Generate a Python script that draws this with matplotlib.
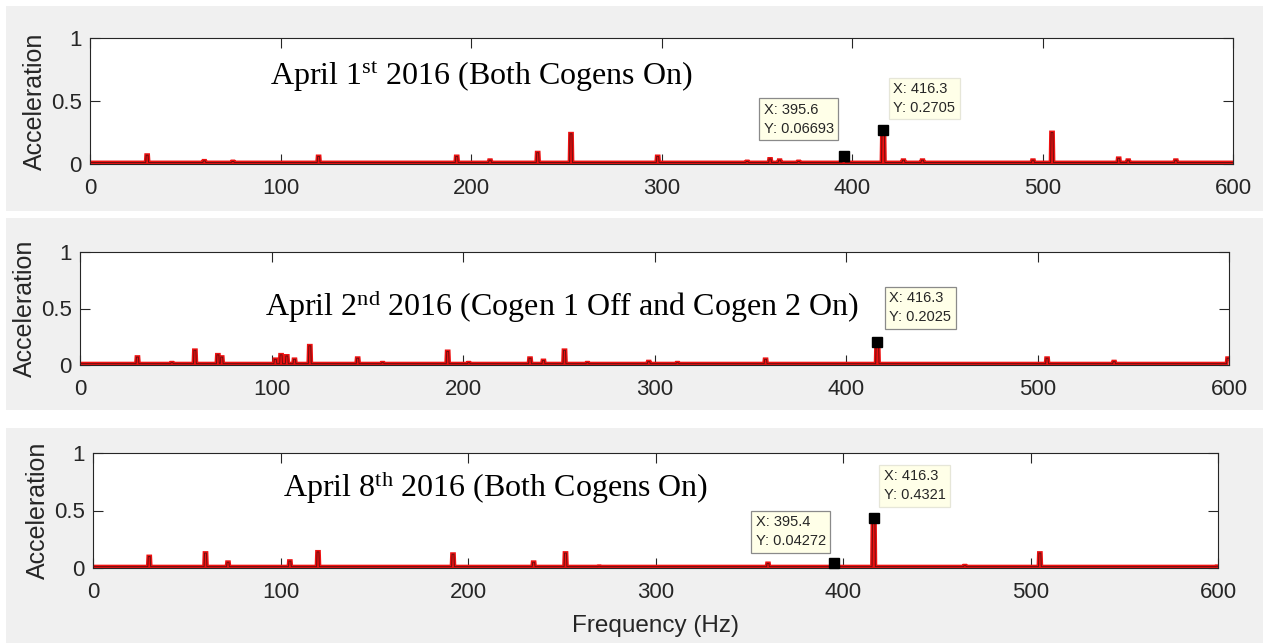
import numpy as np
import matplotlib
matplotlib.use("Agg")
import matplotlib.pyplot as plt
from matplotlib.patches import Rectangle

plt.rcParams['mathtext.fontset'] = 'custom'
plt.rcParams['mathtext.rm'] = 'Liberation Serif'
plt.rcParams['mathtext.it'] = 'Liberation Serif:italic'

# ---------------- data ----------------
titles = [r"April 1$^{\mathrm{st}}$ 2016 (Both Cogens On)",
          r"April 2$^{\mathrm{nd}}$ 2016 (Cogen 1 Off and Cogen 2 On)",
          r"April 8$^{\mathrm{th}}$ 2016 (Both Cogens On)"]

baseline = [0.012, 0.012, 0.012]

peaks1_f = [30, 60, 75, 120, 192.5, 210, 235, 252.5, 298, 345, 357, 362, 372,
            395.6, 416.3, 427, 437, 495, 505, 540, 545, 570]
peaks1_a = [0.07, 0.025, 0.02, 0.06, 0.06, 0.03, 0.09, 0.24, 0.06, 0.02, 0.04, 0.03, 0.02,
            0.06693, 0.2705, 0.03, 0.03, 0.03, 0.25, 0.045, 0.03, 0.03]

peaks2_f = [30, 48, 60, 72, 74, 102, 105, 108, 112, 120, 145, 158, 192, 203,
            235, 242, 253, 265, 297, 312, 358, 416.3, 505, 540, 599.5]
peaks2_a = [0.07, 0.02, 0.13, 0.09, 0.07, 0.05, 0.09, 0.08, 0.05, 0.17, 0.06, 0.02, 0.12, 0.02,
            0.06, 0.04, 0.13, 0.02, 0.03, 0.02, 0.05, 0.2025, 0.06, 0.03, 0.06]

peaks3_f = [30, 60, 72, 105, 120, 192, 235, 252, 270, 360, 395.4, 416.3, 465, 505, 599.5]
peaks3_a = [0.10, 0.13, 0.05, 0.06, 0.14, 0.12, 0.05, 0.13, 0.015, 0.04, 0.04272, 0.4321,
            0.02, 0.13, 0.015]

# data tips
tips1_x = [395.6, 416.3]
tips1_y = [0.06693, 0.2705]
tips1_txt = ["X: 395.6\nY: 0.06693", "X: 416.3\nY: 0.2705"]
tips2_x = [416.3]
tips2_y = [0.2025]
tips2_txt = ["X: 416.3\nY: 0.2025"]
tips3_x = [395.4, 416.3]
tips3_y = [0.04272, 0.4321]
tips3_txt = ["X: 395.4\nY: 0.04272", "X: 416.3\nY: 0.4321"]

xticks = [0, 100, 200, 300, 400, 500, 600]
yticks = [0, 0.5, 1]
ytick_labels = ["0", "0.5", "1"]

# ---------------- figure ----------------
W, H = 1269, 643
fig = plt.figure(figsize=(W / 100, H / 100), dpi=100)
fig.patch.set_facecolor('white')

def px_rect(x0, y0, x1, y1):
    return [x0 / W, 1 - y1 / H, (x1 - x0) / W, (y1 - y0) / H]

# gray figure backgrounds
for (y0, y1) in [(6, 211), (218, 410), (428, 643)]:
    fig.patches.append(Rectangle((6 / W, 1 - y1 / H), (1263 - 6) / W, (y1 - y0) / H,
                                 transform=fig.transFigure, facecolor='#f0f0f0',
                                 edgecolor='none', zorder=-10))

axes_px = [(90, 38, 1233, 164), (80, 252, 1229, 365), (93, 453, 1218, 568)]
title_pos = [(94.5, 0.69), (96.6, 0.52), (101.3, 0.70)]
tip_offsets = [[(-84, 57), (6, 52)], [(8, 55)], [(-83, 52), (6, 53)]]
tip_edges = [['#8a8a8a', '#e6e6d8'], ['#8a8a8a'], ['#8a8a8a', '#e6e6d8']]

peaks_f = [peaks1_f, peaks2_f, peaks3_f]
peaks_a = [peaks1_a, peaks2_a, peaks3_a]
tips_x = [tips1_x, tips2_x, tips3_x]
tips_y = [tips1_y, tips2_y, tips3_y]
tips_t = [tips1_txt, tips2_txt, tips3_txt]

fgrid = np.arange(0, 600.001, 0.25)
dark = '#262626'

for i in range(3):
    ax = fig.add_axes(px_rect(*axes_px[i]))
    ax.set_zorder(1)
    ax.set_facecolor('white')
    spec = np.full_like(fgrid, baseline[i])
    for f, a in zip(peaks_f[i], peaks_a[i]):
        m = np.abs(fgrid - f) <= 0.7
        spec[m] = np.maximum(spec[m], a)
    ax.plot(fgrid, spec, color='#ee1111', lw=2.8, solid_joinstyle='miter', zorder=2)
    ax.plot(fgrid, spec, color='#6a1010', lw=0.7, zorder=3)

    ax.set_xlim(0, 600)
    ax.set_ylim(0, 1)
    ax.set_xticks(xticks)
    ax.set_yticks(yticks)
    ax.set_yticklabels(ytick_labels)
    ax.tick_params(direction='in', length=7, width=0.8, colors=dark,
                   labelsize=16, top=True, right=True)
    ax.tick_params(axis='x', pad=10)
    ax.tick_params(axis='y', pad=6)
    for lab in ax.get_xticklabels() + ax.get_yticklabels():
        lab.set_fontfamily('Liberation Sans')
    for s in ax.spines.values():
        s.set_color(dark)
        s.set_linewidth(0.8)
    ax.set_ylabel("Acceleration", fontsize=18, color=dark, family='Liberation Sans',
                  labelpad=3)

    ax.text(title_pos[i][0], title_pos[i][1], titles[i], fontsize=23,
            family='Liberation Serif', color='black', ha='left', va='center', zorder=5)

    for (tx, ty, tt, off, ec) in zip(tips_x[i], tips_y[i], tips_t[i], tip_offsets[i],
                                     tip_edges[i]):
        ax.plot([tx], [ty], marker='s', ms=7, color='black', zorder=6, clip_on=False)
        ax.annotate(tt, xy=(tx, ty), xytext=(off[0] * 0.72 + 3, off[1] * 0.72 - 3),
                    textcoords='offset points', ha='left', va='top', fontsize=10.5,
                    family='Liberation Sans', color=dark, linespacing=1.45, zorder=7,
                    bbox=dict(boxstyle='square,pad=0.3', facecolor='#ffffe8',
                              edgecolor=ec, lw=0.9))
    if i == 2:
        ax.set_xlabel("Frequency (Hz)", fontsize=17.5, color=dark,
                      family='Liberation Sans', labelpad=9)

fig.savefig("out.png", dpi=100)
